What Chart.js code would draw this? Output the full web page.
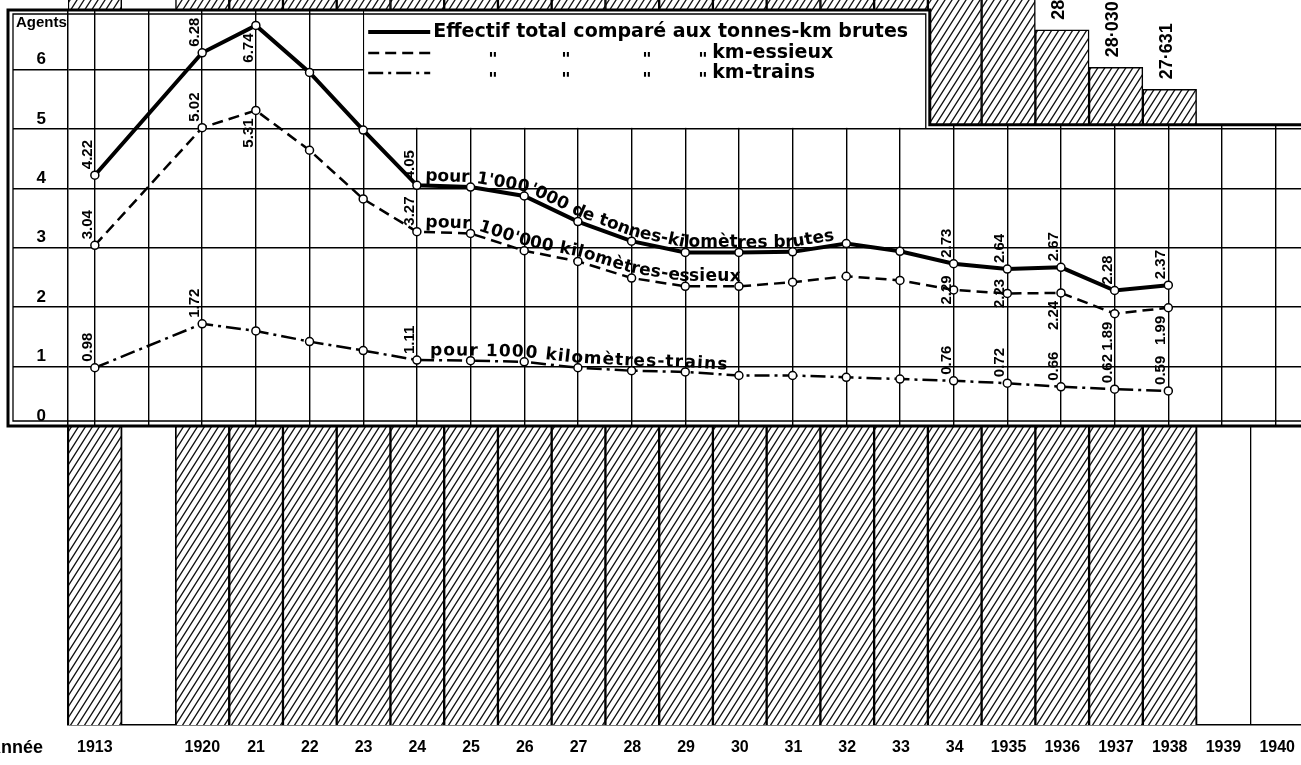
<!DOCTYPE html>
<html>
<head>
<meta charset="utf-8">
<script src="https://cdn.jsdelivr.net/npm/chart.js@4.4.1/dist/chart.umd.min.js"></script>
<style>
  html, body { margin: 0; padding: 0; background: #fff; overflow: hidden; width: 1301px; height: 765px; }
  canvas { position: absolute; left: 0; top: 0; }
</style>
</head>
<body>
<canvas id="barChart" width="1308" height="765"></canvas>
<canvas id="lineChart" width="1308" height="765"></canvas>
<script>
// categories: one empty column stands for the 1914-1919 gap
const years = ['1913', '', '1920', '21', '22', '23', '24', '25', '26', '27', '28', '29', '30',
               '31', '32', '33', '34', '1935', '1936', '1937', '1938', '1939', '1940'];

// agents per 1'000'000 gross tonne-km
const tonnesKm = [4.22, null, 6.28, 6.74, 5.95, 4.98, 4.05, 4.02, 3.87, 3.44, 3.11, 2.92, 2.92,
                  2.93, 3.07, 2.94, 2.73, 2.64, 2.67, 2.28, 2.37, null, null];
// agents per 100'000 axle-km
const kmEssieux = [3.04, null, 5.02, 5.31, 4.64, 3.82, 3.27, 3.24, 2.95, 2.77, 2.49, 2.35, 2.35,
                   2.42, 2.52, 2.45, 2.29, 2.23, 2.24, 1.89, 1.99, null, null];
// agents per 1000 train-km
const kmTrains = [0.98, null, 1.72, 1.60, 1.42, 1.27, 1.11, 1.10, 1.08, 0.98, 0.93, 0.91, 0.85,
                  0.85, 0.82, 0.79, 0.76, 0.72, 0.66, 0.62, 0.59, null, null];
// total staff (bars, mostly cut off above the picture)
const effectif = [35900, null, 39700, 38900, 36200, 34700, 33900, 33700, 33800, 33600, 33700, 34000, 34200,
                  33800, 32700, 31400, 30300, 29600, 28710, 28030, 27631, null, null];

const agentTicks = [0, 1, 2, 3, 4, 5, 6, 7];

const PANEL_TOP = 10, PANEL_BOTTOM = 426, BAR_BOTTOM = 725, LEFT = 68, H = 765;

Chart.defaults.font.family = '"Liberation Sans", Arial, sans-serif';
Chart.defaults.font.weight = 'bold';
Chart.defaults.color = '#000';

// diagonal hatching for the staff bars
function hatch() {
  const c = document.createElement('canvas');
  c.width = 7; c.height = 11;
  const g = c.getContext('2d');
  g.fillStyle = '#fff';
  g.fillRect(0, 0, 7, 11);
  g.strokeStyle = '#111';
  g.lineWidth = 1.3;
  g.beginPath();
  for (const o of [-7, 0, 7]) { g.moveTo(o - 7, 22); g.lineTo(o + 14, -11); }
  g.stroke();
  return g.createPattern(c, 'repeat');
}

const barLabels = {
  id: 'barLabels',
  beforeDraw(chart) {
    // column frames only below the curve panel
    const { ctx } = chart;
    ctx.save();
    ctx.beginPath();
    ctx.rect(0, PANEL_BOTTOM, chart.width, H - PANEL_BOTTOM);
    ctx.clip();
  },
  beforeDatasetsDraw(chart) { chart.ctx.restore(); },
  afterDatasetsDraw(chart) {
    const { ctx } = chart;
    const meta = chart.getDatasetMeta(0);
    ctx.save();
    ctx.fillStyle = '#000';
    ctx.font = 'bold 18px "Liberation Sans", Arial, sans-serif';
    ctx.textBaseline = 'middle';
    ctx.textAlign = 'left';
    meta.data.forEach((bar, i) => {
      const v = effectif[i];
      if (v == null) return;
      const txt = String(v).replace(/\B(?=(\d{3})+$)/, '\u00B7');
      ctx.save();
      ctx.translate(bar.x - 3, bar.y - 10);
      ctx.rotate(-Math.PI / 2);
      ctx.fillText(txt, 0, 0);
      ctx.restore();
    });
    // axis word, its first letter falls off the left edge as in the scan
    ctx.font = 'bold 18px "Liberation Sans", Arial, sans-serif';
    ctx.textAlign = 'left';
    ctx.fillText('Année', 1 - ctx.measureText('A').width, 748);
    ctx.restore();
  }
};

new Chart(document.getElementById('barChart'), {
  type: 'bar',
  data: {
    labels: years,
    datasets: [{
      data: effectif,
      backgroundColor: hatch(),
      borderColor: '#000',
      borderWidth: 1.5,
      barPercentage: 1,
      categoryPercentage: 1
    }]
  },
  options: {
    responsive: false,
    animation: false,
    layout: { padding: { left: LEFT, right: 0, top: 0, bottom: 0 } },
    plugins: { legend: { display: false }, tooltip: { enabled: false } },
    scales: {
      x: {
        afterFit: s => { s.height = H - BAR_BOTTOM; },
        grid: { color: '#000', lineWidth: 1.3, drawTicks: false },
        border: { color: '#000', width: 1.5 },
        ticks: { font: { size: 16, weight: 'bold' }, padding: 13, maxRotation: 0, autoSkip: false }
      },
      y: { display: false, min: 16100, max: 29250 }
    }
  },
  plugins: [barLabels]
});

// ---- curve panel ----
const lineStyles = [
  { width: 4, dash: [] },
  { width: 2.5, dash: [11, 6] },
  { width: 2.5, dash: [15, 5, 3, 5] }
];
const labelIdx = [0, 2, 3, 6, 16, 17, 18, 19, 20];
const placement = [
  { 3: 'b' },
  { 3: 'b', 16: 'm', 17: 'm', 18: 'b', 19: 'b', 20: 'b' },
  { 3: 'x' }
];
const curveText = [
  "pour 1'000'000 de tonnes-kilomètres brutes",
  "pour 100'000 kilomètres-essieux",
  'pour 1000 kilomètres-trains'
];
const curveStart = [425, 425, 430];
const curveSpread = [0, 0.3, 1.1];

function textAlong(ctx, pts, text, startX, lift, spread) {
  const seg = [];
  let total = 0;
  for (let i = 1; i < pts.length; i++) {
    const dx = pts[i].x - pts[i - 1].x, dy = pts[i].y - pts[i - 1].y;
    const len = Math.hypot(dx, dy);
    seg.push({ p: pts[i - 1], dx, dy, len, s0: total });
    total += len;
  }
  const at = s => {
    const k = seg.find(g => s <= g.s0 + g.len) || seg[seg.length - 1];
    const t = (s - k.s0) / k.len;
    return { x: k.p.x + k.dx * t, y: k.p.y + k.dy * t };
  };
  let s = 0;
  for (const g of seg) {
    if (g.p.x + g.dx >= startX) { s = g.s0 + (startX - g.p.x) / g.dx * g.len; break; }
  }
  ctx.textAlign = 'center';
  ctx.textBaseline = 'alphabetic';
  for (const ch of text) {
    const w = ctx.measureText(ch).width;
    const p1 = at(s), p2 = at(s + w);
    const a = Math.atan2(p2.y - p1.y, p2.x - p1.x);
    ctx.save();
    ctx.translate((p1.x + p2.x) / 2 + Math.sin(a) * lift, (p1.y + p2.y) / 2 - Math.cos(a) * lift);
    ctx.rotate(a);
    ctx.fillText(ch, 0, 0);
    ctx.restore();
    s += w + spread;
  }
}

const panel = {
  id: 'panel',
  shape(chart) {
    const { chartArea: a, scales: { x, y } } = chart;
    return {
      a,
      outer: a.left - 60,
      nx: (x.getPixelForValue(15) + x.getPixelForValue(16)) / 2 + 3,
      ny: y.getPixelForValue(5),
      lx: x.getPixelForValue(5)
    };
  },
  beforeDraw(chart) {
    const { ctx } = chart;
    const { a, outer, nx, ny } = this.shape(chart);
    ctx.save();
    ctx.beginPath();
    ctx.moveTo(outer, a.top);
    ctx.lineTo(nx, a.top);
    ctx.lineTo(nx, ny - 4);
    ctx.lineTo(chart.width, ny - 4);
    ctx.lineTo(chart.width, a.bottom);
    ctx.lineTo(outer, a.bottom);
    ctx.closePath();
    ctx.fillStyle = '#fff';
    ctx.fill();
    ctx.clip();
  },
  beforeDatasetsDraw(chart) {
    const { ctx } = chart;
    const { a, nx, ny, lx } = this.shape(chart);
    // legend box hides the grid
    ctx.fillStyle = '#fff';
    ctx.fillRect(lx + 1, a.top, nx - lx - 1, ny - a.top - 1);
    ctx.fillStyle = '#000';
    ctx.font = 'bold 15px "Liberation Sans", Arial, sans-serif';
    ctx.textAlign = 'left';
    ctx.textBaseline = 'middle';
    ctx.fillText('Agents', a.left - 52, a.top + 13);

    // legend
    const rows = [a.top + 22, a.top + 43, a.top + 63];
    const ds = chart.data.datasets;
    rows.forEach((ry, i) => {
      ctx.save();
      ctx.strokeStyle = '#000';
      ctx.lineWidth = ds[i].borderWidth;
      ctx.setLineDash(ds[i].borderDash);
      ctx.beginPath();
      ctx.moveTo(lx + 5, ry);
      ctx.lineTo(lx + 67, ry);
      ctx.stroke();
      ctx.restore();
    });
    ctx.font = 'bold 19px "DejaVu Sans", sans-serif';
    ctx.textBaseline = 'middle';
    ctx.fillText('Effectif total comparé aux tonnes-km brutes', lx + 70, rows[0]);
    ctx.fillText('km-essieux', lx + 349, rows[1]);
    ctx.fillText('km-trains', lx + 349, rows[2]);
    ctx.font = 'bold italic 18px "DejaVu Sans", sans-serif';
    ctx.textBaseline = 'alphabetic';
    for (const r of [rows[1], rows[2]]) {
      for (const dx of [125, 198, 279, 335]) ctx.fillText('"', lx + dx, r + 12);
    }
  },
  afterDatasetsDraw(chart) {
    const { ctx } = chart;
    ctx.save();
    ctx.fillStyle = '#000';
    // value labels, rotated
    ctx.font = 'bold 15px "Liberation Sans", Arial, sans-serif';
    ctx.textBaseline = 'middle';
    chart.data.datasets.forEach((d, di) => {
      const meta = chart.getDatasetMeta(di);
      labelIdx.forEach(i => {
        const mode = placement[di][i] || 'a';
        if (mode === 'x' || d.data[i] == null) return;
        const p = meta.data[i];
        ctx.save();
        ctx.translate(p.x - 7, p.y);
        ctx.rotate(-Math.PI / 2);
        const txt = d.data[i].toFixed(2);
        if (mode === 'a') { ctx.textAlign = 'left'; ctx.fillText(txt, 6, 0); }
        else if (mode === 'b') { ctx.textAlign = 'right'; ctx.fillText(txt, -8, 0); }
        else { ctx.textAlign = 'center'; ctx.fillText(txt, 0, 0); }
        ctx.restore();
      });
    });
    // lettering along the curves
    ctx.font = 'bold 17px "DejaVu Sans", sans-serif';
    chart.data.datasets.forEach((d, di) => {
      const meta = chart.getDatasetMeta(di);
      const pts = meta.data.filter((p, j) => d.data[j] != null).map(p => ({ x: p.x, y: p.y }));
      textAlong(ctx, pts, curveText[di], curveStart[di], 5, curveSpread[di]);
    });
    ctx.restore();
  },
  afterDraw(chart) {
    const { ctx } = chart;
    ctx.restore();
    const { a, outer, nx, ny } = this.shape(chart);
    const W = chart.width + 5;
    ctx.save();
    ctx.strokeStyle = '#000';
    ctx.lineWidth = 3;
    ctx.beginPath();
    ctx.moveTo(W, a.bottom);
    ctx.lineTo(outer, a.bottom);
    ctx.lineTo(outer, a.top);
    ctx.lineTo(nx, a.top);
    ctx.lineTo(nx, ny - 4);
    ctx.lineTo(W, ny - 4);
    ctx.stroke();
    ctx.lineWidth = 1.3;
    ctx.beginPath();
    ctx.moveTo(W, a.bottom - 5);
    ctx.lineTo(outer + 5, a.bottom - 5);
    ctx.lineTo(outer + 5, a.top + 4);
    ctx.lineTo(nx - 4, a.top + 4);
    ctx.lineTo(nx - 4, ny);
    ctx.stroke();
    ctx.restore();
  }
};

const gapDotted = {
  borderDash: c => (c.p0DataIndex === 0 ? [2.5, 4] : undefined),
  borderWidth: c => (c.p0DataIndex === 0 ? 2 : undefined)
};

function series(data, style) {
  return {
    data,
    borderColor: '#000',
    borderWidth: style.width,
    borderDash: style.dash,
    spanGaps: true,
    tension: 0,
    pointRadius: 4,
    pointBackgroundColor: '#fff',
    pointBorderColor: '#000',
    pointBorderWidth: 1.5,
    segment: gapDotted
  };
}

new Chart(document.getElementById('lineChart'), {
  type: 'line',
  data: {
    labels: years,
    datasets: [
      series(tonnesKm, lineStyles[0]),
      series(kmEssieux, lineStyles[1]),
      series(kmTrains, lineStyles[2])
    ]
  },
  options: {
    responsive: false,
    animation: false,
    layout: { padding: { left: 13, right: 0, top: PANEL_TOP, bottom: H - PANEL_BOTTOM } },
    plugins: { legend: { display: false }, tooltip: { enabled: false } },
    scales: {
      x: {
        offset: true,
        afterFit: s => { s.height = 0; },
        grid: { color: '#000', lineWidth: 1.4, drawTicks: false, offset: false },
        border: { display: false },
        ticks: { display: false }
      },
      y: {
        min: agentTicks[0],
        max: agentTicks[agentTicks.length - 1],
        afterFit: s => { s.width = LEFT - 13; },
        afterBuildTicks: s => { s.ticks = agentTicks.map(v => ({ value: v })); },
        grid: { color: '#000', lineWidth: 1.4, tickLength: LEFT - 13 },
        border: { color: '#000', width: 1.5 },
        ticks: {
          callback: v => (v === 7 ? '' : v),
          font: { size: 17, weight: 'bold' },
          padding: -33,
          labelOffset: -10
        }
      }
    }
  },
  plugins: [panel]
});
</script>
</body>
</html>
